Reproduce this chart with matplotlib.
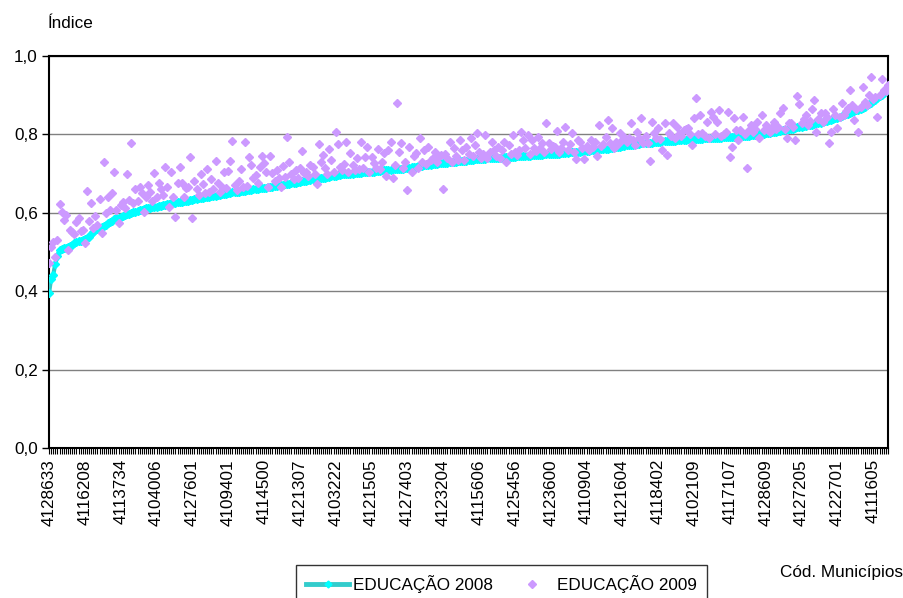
#!/usr/bin/env python3
"""
Índice de educação por município - 2008 x 2009
"""

import numpy as np
import matplotlib
matplotlib.use('Agg')
import matplotlib.pyplot as plt
from matplotlib.lines import Line2D

# EDUCAÇÃO 2008 (municípios ordenados pelo índice de 2008)
edu_2008 = [
    0.395, 0.432, 0.442, 0.470, 0.490, 0.505, 0.507, 0.509, 0.511, 0.513, 0.516, 0.519, 0.522, 0.525, 0.527, 0.529, 0.531, 0.533, 0.536, 0.539,
    0.545, 0.550, 0.555, 0.558, 0.561, 0.564, 0.567, 0.570, 0.573, 0.576, 0.580, 0.583, 0.586, 0.588, 0.590, 0.592, 0.594, 0.597, 0.598, 0.600,
    0.601, 0.603, 0.604, 0.606, 0.608, 0.610, 0.611, 0.612, 0.613, 0.614, 0.615, 0.616, 0.617, 0.618, 0.619, 0.620, 0.622, 0.623, 0.624, 0.625,
    0.626, 0.627, 0.628, 0.628, 0.629, 0.630, 0.631, 0.632, 0.633, 0.634, 0.636, 0.637, 0.638, 0.639, 0.640, 0.640, 0.641, 0.642, 0.643, 0.644,
    0.645, 0.646, 0.647, 0.648, 0.649, 0.650, 0.651, 0.652, 0.653, 0.654, 0.654, 0.655, 0.656, 0.656, 0.657, 0.658, 0.659, 0.660, 0.660, 0.661,
    0.662, 0.662, 0.663, 0.664, 0.665, 0.666, 0.667, 0.668, 0.669, 0.670, 0.671, 0.672, 0.673, 0.673, 0.674, 0.675, 0.676, 0.677, 0.678, 0.679,
    0.680, 0.681, 0.682, 0.683, 0.684, 0.685, 0.686, 0.687, 0.688, 0.689, 0.690, 0.690, 0.691, 0.692, 0.693, 0.694, 0.695, 0.696, 0.697, 0.698,
    0.698, 0.699, 0.699, 0.700, 0.700, 0.701, 0.701, 0.702, 0.702, 0.703, 0.703, 0.704, 0.704, 0.705, 0.705, 0.706, 0.707, 0.707, 0.708, 0.709,
    0.709, 0.710, 0.710, 0.711, 0.711, 0.712, 0.712, 0.713, 0.713, 0.714, 0.714, 0.715, 0.716, 0.717, 0.718, 0.719, 0.719, 0.720, 0.721, 0.722,
    0.722, 0.723, 0.724, 0.724, 0.725, 0.726, 0.726, 0.727, 0.727, 0.728, 0.729, 0.729, 0.730, 0.730, 0.731, 0.732, 0.732, 0.733, 0.733, 0.734,
    0.735, 0.735, 0.736, 0.736, 0.737, 0.737, 0.738, 0.738, 0.739, 0.739, 0.740, 0.740, 0.740, 0.741, 0.741, 0.741, 0.742, 0.742, 0.742, 0.743,
    0.743, 0.743, 0.744, 0.744, 0.745, 0.745, 0.746, 0.746, 0.746, 0.747, 0.747, 0.747, 0.748, 0.748, 0.748, 0.749, 0.749, 0.749, 0.750, 0.750,
    0.750, 0.751, 0.751, 0.752, 0.752, 0.753, 0.753, 0.754, 0.754, 0.755, 0.755, 0.756, 0.756, 0.757, 0.757, 0.758, 0.758, 0.759, 0.760, 0.760,
    0.761, 0.762, 0.762, 0.763, 0.764, 0.764, 0.765, 0.766, 0.767, 0.767, 0.768, 0.769, 0.770, 0.771, 0.772, 0.772, 0.773, 0.774, 0.775, 0.775,
    0.776, 0.777, 0.777, 0.778, 0.778, 0.779, 0.779, 0.780, 0.780, 0.781, 0.781, 0.782, 0.782, 0.782, 0.783, 0.783, 0.784, 0.784, 0.785, 0.785,
    0.786, 0.786, 0.786, 0.787, 0.787, 0.788, 0.788, 0.788, 0.789, 0.789, 0.789, 0.790, 0.790, 0.790, 0.791, 0.791, 0.791, 0.792, 0.792, 0.792,
    0.793, 0.793, 0.793, 0.794, 0.794, 0.794, 0.795, 0.795, 0.795, 0.796, 0.796, 0.797, 0.797, 0.798, 0.798, 0.799, 0.800, 0.800, 0.801, 0.802,
    0.803, 0.803, 0.804, 0.805, 0.806, 0.807, 0.808, 0.809, 0.810, 0.811, 0.812, 0.813, 0.814, 0.815, 0.816, 0.818, 0.819, 0.820, 0.821, 0.822,
    0.823, 0.824, 0.825, 0.826, 0.828, 0.829, 0.830, 0.832, 0.833, 0.834, 0.836, 0.838, 0.840, 0.841, 0.843, 0.845, 0.847, 0.849, 0.851, 0.853,
    0.855, 0.857, 0.859, 0.861, 0.863, 0.866, 0.868, 0.871, 0.874, 0.877, 0.880, 0.884, 0.888, 0.892, 0.897, 0.901, 0.906, 0.911, 0.920,
]

# EDUCAÇÃO 2009 (mesma ordem de municípios)
edu_2009 = [
    0.472, 0.513, 0.526, 0.487, 0.530, 0.622, 0.602, 0.582, 0.595, 0.505, 0.556, 0.550, 0.545, 0.577, 0.587, 0.553, 0.555, 0.523, 0.656, 0.579,
    0.625, 0.560, 0.592, 0.570, 0.635, 0.548, 0.730, 0.600, 0.640, 0.607, 0.650, 0.704, 0.607, 0.574, 0.620, 0.628, 0.612, 0.699, 0.633, 0.777,
    0.625, 0.660, 0.630, 0.666, 0.650, 0.602, 0.640, 0.670, 0.653, 0.630, 0.702, 0.640, 0.675, 0.660, 0.645, 0.717, 0.666, 0.615, 0.704, 0.640,
    0.589, 0.676, 0.717, 0.676, 0.640, 0.663, 0.666, 0.742, 0.587, 0.681, 0.660, 0.645, 0.699, 0.673, 0.650, 0.712, 0.653, 0.686, 0.660, 0.732,
    0.676, 0.653, 0.665, 0.704, 0.663, 0.707, 0.732, 0.783, 0.670, 0.658, 0.680, 0.712, 0.665, 0.780, 0.668, 0.742, 0.722, 0.689, 0.696, 0.675,
    0.717, 0.745, 0.727, 0.704, 0.666, 0.745, 0.702, 0.680, 0.709, 0.689, 0.666, 0.720, 0.691, 0.794, 0.730, 0.700, 0.685, 0.710, 0.690, 0.715,
    0.758, 0.702, 0.704, 0.695, 0.722, 0.717, 0.700, 0.673, 0.776, 0.730, 0.747, 0.714, 0.700, 0.763, 0.735, 0.705, 0.806, 0.776, 0.717, 0.710,
    0.725, 0.781, 0.705, 0.753, 0.722, 0.709, 0.740, 0.712, 0.781, 0.715, 0.742, 0.768, 0.704, 0.742, 0.727, 0.715, 0.763, 0.712, 0.730, 0.753,
    0.694, 0.760, 0.781, 0.689, 0.722, 0.880, 0.755, 0.778, 0.715, 0.730, 0.658, 0.768, 0.704, 0.745, 0.753, 0.714, 0.790, 0.730, 0.760, 0.725,
    0.768, 0.735, 0.740, 0.755, 0.730, 0.745, 0.747, 0.660, 0.750, 0.740, 0.781, 0.730, 0.765, 0.745, 0.735, 0.786, 0.760, 0.735, 0.768, 0.750,
    0.790, 0.745, 0.773, 0.804, 0.755, 0.740, 0.750, 0.798, 0.740, 0.755, 0.781, 0.760, 0.745, 0.768, 0.740, 0.760, 0.781, 0.730, 0.773, 0.750,
    0.798, 0.755, 0.747, 0.760, 0.806, 0.786, 0.765, 0.798, 0.750, 0.786, 0.765, 0.758, 0.793, 0.765, 0.778, 0.755, 0.829, 0.778, 0.762, 0.770,
    0.768, 0.809, 0.755, 0.765, 0.781, 0.819, 0.760, 0.775, 0.804, 0.755, 0.737, 0.786, 0.781, 0.765, 0.737, 0.770, 0.760, 0.786, 0.768, 0.781,
    0.745, 0.824, 0.770, 0.775, 0.793, 0.837, 0.778, 0.816, 0.765, 0.780, 0.775, 0.804, 0.785, 0.793, 0.780, 0.790, 0.829, 0.785, 0.773, 0.806,
    0.790, 0.842, 0.778, 0.795, 0.778, 0.732, 0.832, 0.804, 0.790, 0.816, 0.788, 0.760, 0.829, 0.747, 0.804, 0.795, 0.829, 0.790, 0.819, 0.800,
    0.795, 0.810, 0.814, 0.816, 0.800, 0.773, 0.842, 0.893, 0.800, 0.850, 0.804, 0.795, 0.832, 0.791, 0.857, 0.844, 0.800, 0.832, 0.862, 0.795,
    0.800, 0.806, 0.857, 0.742, 0.768, 0.842, 0.810, 0.786, 0.811, 0.844, 0.800, 0.714, 0.810, 0.824, 0.805, 0.815, 0.832, 0.791, 0.850, 0.810,
    0.824, 0.810, 0.805, 0.820, 0.832, 0.815, 0.820, 0.855, 0.867, 0.815, 0.791, 0.830, 0.829, 0.820, 0.786, 0.898, 0.877, 0.830, 0.840, 0.850,
    0.824, 0.835, 0.865, 0.888, 0.806, 0.840, 0.855, 0.832, 0.855, 0.845, 0.778, 0.806, 0.865, 0.850, 0.816, 0.844, 0.880, 0.850, 0.860, 0.867,
    0.913, 0.875, 0.837, 0.865, 0.806, 0.870, 0.921, 0.883, 0.875, 0.900, 0.946, 0.890, 0.895, 0.844, 0.900, 0.941, 0.913, 0.910, 0.925,
]

# códigos exibidos no eixo x (um a cada 17 municípios)
label_step = 17
cod_labels = [
    '4128633', '4116208', '4113734', '4104006', '4127601', '4109401',
    '4114500', '4121307', '4103222', '4121505', '4127403', '4123204',
    '4115606', '4125456', '4123600', '4110904', '4121604', '4118402',
    '4102109', '4117107', '4128609', '4127205', '4122701', '4111605',
]

y_ticks = [0.0, 0.2, 0.4, 0.6, 0.8, 1.0]

plt.rcParams['font.family'] = ['Liberation Sans', 'DejaVu Sans']
FS = 12.3


def make_chart():
    fig = plt.figure(figsize=(9.04, 5.98), dpi=100)
    ax = fig.add_axes([49 / 904, 1 - 448 / 598, 839 / 904, 392 / 598])

    x08 = np.arange(len(edu_2008))
    x09 = np.arange(len(edu_2009))

    ax.plot(x08, edu_2008, color='#33CCCC', lw=3, marker='D', ms=4.3,
            mfc='#00FFFF', mec='#00FFFF', zorder=3)
    ax.plot(x09, edu_2009, ls='none', marker='D', ms=3.8,
            mfc='#CC99FF', mec='#CC99FF', zorder=4)

    n = len(edu_2008)
    ax.set_xlim(0, n - 1)
    ax.set_ylim(0, 1.0)

    ax.set_yticks(y_ticks)
    ax.set_yticklabels([f'{v:.1f}'.replace('.', ',') for v in y_ticks], fontsize=FS)
    ax.yaxis.grid(True, color='#808080', lw=1)
    ax.set_axisbelow(True)

    ax.set_xticks(np.arange(len(cod_labels)) * label_step)
    ax.set_xticklabels(cod_labels, rotation=90, fontsize=FS)
    ax.set_xticks(np.arange(n), minor=True)
    ax.tick_params(axis='x', which='both', length=4, width=0.8, pad=4)
    ax.tick_params(axis='y', length=5, width=1, pad=3)

    for side in ['left', 'right', 'top', 'bottom']:
        ax.spines[side].set_color('black')
        ax.spines[side].set_linewidth(1.5)

    fig.text(48 / 904, 1 - 24 / 598, 'Índice', fontsize=FS, va='center', ha='left')
    fig.text(903 / 904, 1 - 573 / 598, 'Cód. Municípios', fontsize=FS,
             va='center', ha='right')

    handles = [
        Line2D([], [], color='#33CCCC', lw=3.5, marker='D', ms=3.5,
               mfc='#00FFFF', mec='#00FFFF'),
        Line2D([], [], ls='none', marker='D', ms=3.6,
               mfc='#CC99FF', mec='#CC99FF'),
    ]
    leg = fig.legend(handles, ['EDUCAÇÃO 2008', 'EDUCAÇÃO 2009'], ncol=2,
                     loc='upper left', bbox_to_anchor=(296 / 904, 1 - 565 / 598),
                     fontsize=FS, frameon=True, fancybox=False, numpoints=1,
                     handlelength=2.5, handletextpad=0.25, columnspacing=1.0,
                     borderpad=0.6, borderaxespad=0)
    leg.get_frame().set_edgecolor('black')
    leg.get_frame().set_linewidth(1.0)

    fig.savefig('out.png', dpi=100)
    plt.close(fig)


if __name__ == '__main__':
    make_chart()
